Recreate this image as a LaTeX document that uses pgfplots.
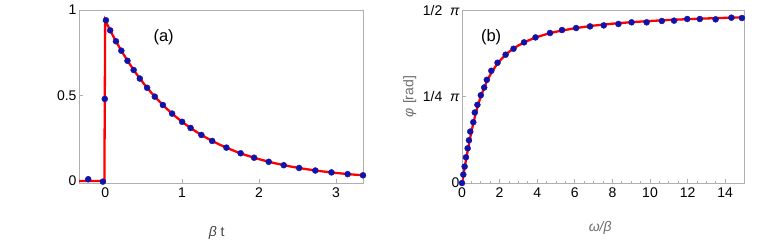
\documentclass[border=0pt]{standalone}
\usepackage{fontspec}
\setmainfont{Liberation Sans}
\usepackage{pgfplots}
\pgfplotsset{compat=1.18}
\definecolor{dotblue}{RGB}{18,18,170}
\definecolor{framegray}{RGB}{175,175,175}
\definecolor{labgray}{RGB}{110,110,110}
\begin{document}
\begin{tikzpicture}
\path[use as bounding box] (0pt,0pt) rectangle (763pt,244pt);
\pgfplotsset{
  every axis/.style={
    scale only axis,
    anchor=south west,
    axis line style={framegray, line width=0.9pt},
    tick style={framegray, line width=0.7pt},
    major tick length=4pt,
    minor tick length=2.2pt,
    tick align=inside,
    xtick pos=bottom, ytick pos=left,
    /pgf/number format/assume math mode=true,
    tick label style={font=\fontsize{14}{16}\selectfont, black},
    xticklabel style={yshift=-1pt},
    yticklabel style={xshift=1pt},
    label style={font=\fontsize{14}{16}\selectfont},
    clip=true,
  }
}
\begin{axis}[
  at={(79pt,61pt)}, width=284pt, height=173pt,
  xmin=-0.34, xmax=3.35, ymin=-0.012, ymax=1,
  xtick={0,1,2,3}, ytick={0,0.5,1},
  yticklabels={0,0.5,1},
  minor x tick num=0,
  xlabel={\color[RGB]{70,70,70}\itshape β\upshape\ t},
  xlabel style={at={(axis description cs:0.485,-0.29)}, anchor=center},
]
\addplot[red, line width=2.3pt] coordinates {
(-0.34,0) (-0.01,0) (0,0.94) (0.1,0.8505) (0.2,0.7696) (0.3,0.6964) (0.4,0.6301)
(0.5,0.5701) (0.6,0.5159) (0.7,0.4668) (0.8,0.4224) (0.9,0.3822) (1.0,0.3458)
(1.1,0.3129) (1.2,0.2831) (1.3,0.2562) (1.4,0.2318) (1.5,0.2097) (1.6,0.1898)
(1.7,0.1717) (1.8,0.1554) (1.9,0.1406) (2.0,0.1272) (2.2,0.1042) (2.4,0.0853)
(2.6,0.0698) (2.8,0.0572) (3.0,0.0468) (3.2,0.0383) (3.4,0.0314)};
\addplot[only marks, mark=*, mark size=3pt, dotblue, clip marker paths=false] coordinates {
(-0.22,0.010) (-0.03,-0.004) (-0.005,0.48) (0.01,0.94)
(0.065,0.881) (0.14,0.817) (0.21,0.762) (0.29,0.703) (0.37,0.649) (0.45,0.599)
(0.545,0.545) (0.645,0.493) (0.75,0.444) (0.87,0.394) (1.0,0.346) (1.11,0.310)
(1.25,0.269) (1.39,0.234) (1.575,0.195) (1.76,0.162) (1.935,0.136) (2.125,0.112)
(2.32,0.092) (2.52,0.076) (2.73,0.061) (2.94,0.050) (3.15,0.040) (3.35,0.033)};
\node[font=\fontsize{16.5}{18}\selectfont] at (axis cs:0.76,0.84) {(a)};
\end{axis}
\begin{axis}[
  at={(462pt,61pt)}, width=282pt, height=173pt,
  xmin=0, xmax=15, ymin=0, ymax=1.5708,
  xtick={0,2,4,6,8,10,12,14},
  minor x tick num=3,
  ytick={0,0.7854,1.5708},
  yticklabels={0,1/4\ \ \itshape π,1/2\ \ \itshape π},
  xlabel={\color{labgray}\itshape ω/β},
  ylabel={\color{labgray}\itshape φ\upshape\ [rad]},
  xlabel style={at={(axis description cs:0.49,-0.26)}, anchor=center},
  ylabel style={at={(axis description cs:-0.185,0.5)}, anchor=center},
]
\addplot[red, line width=2.3pt] coordinates {
(0,0) (0.1,0.0997) (0.2,0.1974) (0.3,0.2915) (0.4,0.3805) (0.5,0.4636) (0.6,0.5404)
(0.7,0.6107) (0.8,0.6747) (0.9,0.7328) (1.0,0.7854) (1.2,0.8761) (1.4,0.9505)
(1.6,1.0122) (1.8,1.0637) (2.0,1.1071) (2.25,1.1526) (2.5,1.1903) (2.75,1.2220)
(3,1.2490) (3.5,1.2925) (4,1.3258) (4.5,1.3521) (5,1.3734) (6,1.4056) (7,1.4289)
(8,1.4464) (9,1.4601) (10,1.4711) (11,1.4801) (12,1.4877) (13,1.4940) (14,1.4995) (15,1.5042)};
\addplot[only marks, mark=*, mark size=3pt, dotblue, clip marker paths=false] coordinates {
(0,0.0) (0.07,0.076) (0.14,0.149) (0.21,0.233) (0.30,0.315) (0.37,0.388) (0.44,0.467)
(0.60,0.552) (0.68,0.640) (0.82,0.710) (1.00,0.797) (1.18,0.867) (1.32,0.937)
(1.56,1.019) (1.89,1.092) (2.32,1.165) (2.74,1.219) (3.30,1.277) (3.91,1.322)
(4.68,1.362) (5.32,1.389) (6.07,1.407) (6.81,1.422) (7.54,1.431) (8.32,1.444)
(9.02,1.459) (9.82,1.459) (10.63,1.471) (11.28,1.474) (11.98,1.489) (12.65,1.489)
(13.49,1.486) (14.33,1.501) (14.89,1.498)};
\node[font=\fontsize{16.5}{18}\selectfont] at (axis cs:1.55,1.32) {(b)};
\end{axis}
\end{tikzpicture}
\end{document}
